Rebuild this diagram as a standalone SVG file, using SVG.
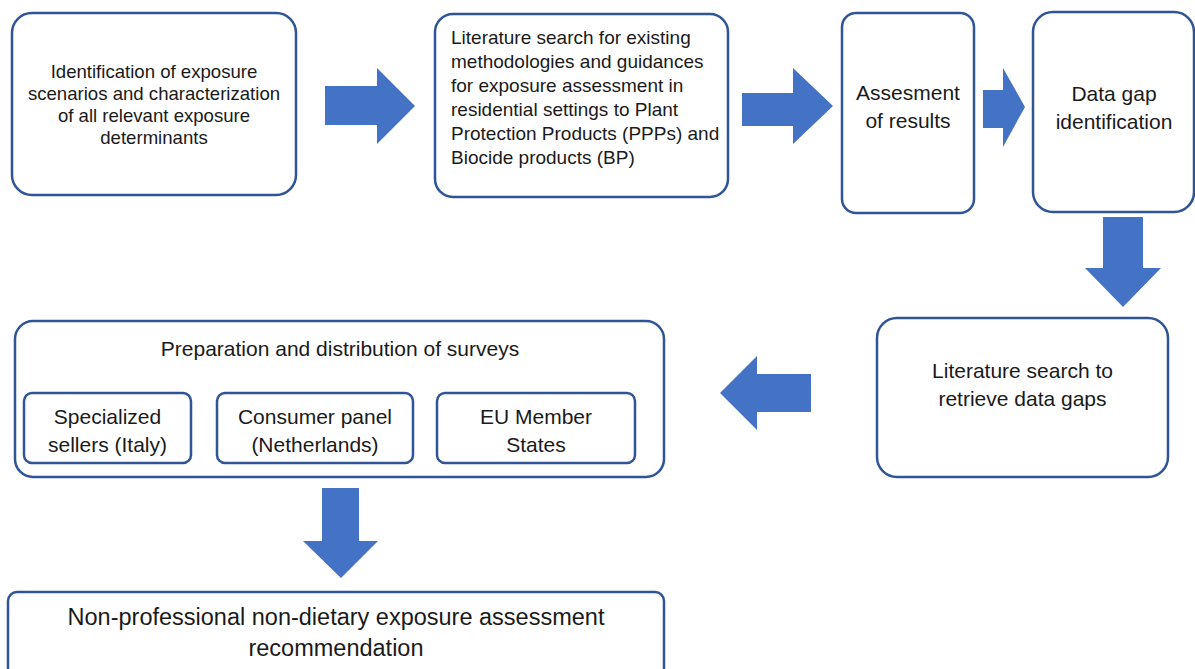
<svg xmlns="http://www.w3.org/2000/svg" width="1195" height="669" viewBox="0 0 1195 669">
<style>
.box{fill:#fff;stroke:#2F5597;stroke-width:2.5}
.arr{fill:#4472C4;stroke:none}
text{font-family:"Liberation Sans",Arial,sans-serif;fill:#1a1a1a}
.c{text-anchor:middle}
.f18{font-size:18.6px}
.f19{font-size:19px}
.f21{font-size:21px}
.f23{font-size:23.5px}
</style>
<rect width="1195" height="669" fill="#fff"/>
<g id="n1">
<rect class="box" x="12" y="13" width="284" height="182" rx="20"/>
<text class="c f18" x="154" y="77.5">Identification of exposure</text>
<text class="c f18" x="154" y="99.5">scenarios and characterization</text>
<text class="c f18" x="154" y="121.5">of all relevant exposure</text>
<text class="c f18" x="154" y="143.5">determinants</text>
</g>
<g id="n2">
<rect class="box" x="435" y="14" width="293" height="183" rx="18"/>
<text class="f19" x="451" y="43.5">Literature search for existing</text>
<text class="f19" x="451" y="67.5">methodologies and guidances</text>
<text class="f19" x="451" y="91.5">for exposure assessment in</text>
<text class="f19" x="451" y="115.5">residential settings to Plant</text>
<text class="f19" x="451" y="139.5">Protection Products (PPPs) and</text>
<text class="f19" x="451" y="163.5">Biocide products (BP)</text>
</g>
<g id="n3">
<rect class="box" x="842" y="13" width="132" height="200" rx="14"/>
<text class="c f21" x="908" y="100">Assesment</text>
<text class="c f21" x="908" y="128">of results</text>
</g>
<g id="n4">
<rect class="box" x="1033" y="12" width="161" height="200" rx="20"/>
<text class="c f21" x="1114" y="100.5">Data gap</text>
<text class="c f21" x="1114" y="128.5">identification</text>
</g>
<g id="n5">
<rect class="box" x="877" y="318" width="291" height="159" rx="20"/>
<text class="c f21" x="1022.5" y="378">Literature search to</text>
<text class="c f21" x="1022.5" y="406">retrieve data gaps</text>
</g>
<g id="n6">
<rect class="box" x="15" y="321" width="649" height="156" rx="18"/>
<text class="c f21" x="340" y="356">Preparation and distribution of surveys</text>
</g>
<g id="n6a">
<rect class="box" x="24" y="393" width="167" height="70" rx="8"/>
<text class="c f21" x="107.5" y="424">Specialized</text>
<text class="c f21" x="107.5" y="451.5">sellers (Italy)</text>
</g>
<g id="n6b">
<rect class="box" x="217" y="393" width="196" height="70" rx="8"/>
<text class="c f21" x="315" y="424">Consumer panel</text>
<text class="c f21" x="315" y="451.5">(Netherlands)</text>
</g>
<g id="n6c">
<rect class="box" x="437" y="393" width="198" height="70" rx="8"/>
<text class="c f21" x="536" y="424">EU Member</text>
<text class="c f21" x="536" y="451.5">States</text>
</g>
<g id="n7">
<rect class="box" x="8" y="592" width="656" height="100" rx="9"/>
<text class="c f23" x="336" y="625">Non-professional non-dietary exposure assessment</text>
<text class="c f23" x="336" y="656">recommendation</text>
</g>
<g id="connectors">
<polygon class="arr" points="325,86 377,86 377,68 415,106 377,144 377,125 325,125"/>
<polygon class="arr" points="742,93 793,93 793,68 833,106 793,144 793,126 742,126"/>
<polygon class="arr" points="983,90 1003,90 1003,68 1025,107 1003,147 1003,128 983,128"/>
<polygon class="arr" points="1103,217 1143,217 1143,268 1161,268 1123,307 1085,268 1103,268"/>
<polygon class="arr" points="811,374 757,374 757,356 720,393 757,430 757,412 811,412"/>
<polygon class="arr" points="322,488 359,488 359,541 378,541 341,578 303,541 322,541"/>
</g>
</svg>
